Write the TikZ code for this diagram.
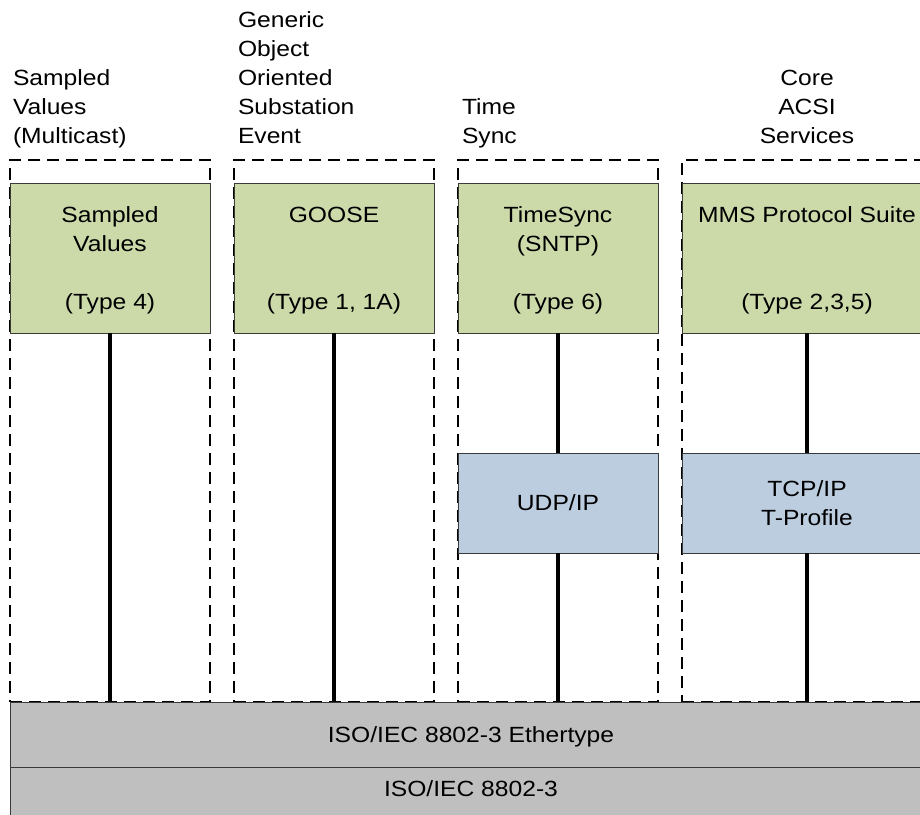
\documentclass[tikz,border=0pt]{standalone}
\usepackage{fontspec}
\setmainfont{Liberation Sans}[FakeStretch=1.12]
\definecolor{greenfill}{HTML}{CCDAAA}
\definecolor{bluefill}{HTML}{BCCDE0}
\definecolor{greyfill}{HTML}{BFBFBF}
\definecolor{edge}{HTML}{3A3A3A}
\begin{document}
\begin{tikzpicture}[x=1pt,y=-1pt,
  every node/.style={font=\fontsize{22}{29}\selectfont, inner sep=0pt, outer sep=0pt},
  groupbox/.style={draw=black, line width=1.3pt, dash pattern=on 12pt off 7pt, minimum width=200pt, minimum height=542pt, anchor=north west},
  greenbox/.style={draw=edge, line width=0.9pt, fill=greenfill, minimum height=150pt, anchor=north west},
  bluebox/.style={draw=edge, line width=0.9pt, fill=bluefill, minimum height=100pt, anchor=north west, align=center},
  greybox/.style={draw=edge, line width=0.9pt, fill=greyfill, minimum width=922pt, anchor=north west, text height=15.8pt},
  boxtext/.style={anchor=base, align=center},
  toplabel/.style={anchor=base west, align=left},
  stem/.style={line width=4pt, black}
]
\useasboundingbox (0,0) rectangle (920,814);
\clip (0,0) rectangle (920,814);

% dashed groups
\node[groupbox] (g1) at (10,160) {};
\node[groupbox] (g2) at (234,160) {};
\node[groupbox] (g3) at (458,160) {};
\node[groupbox, minimum width=250pt] (g4) at (682,160) {};

% top labels (base = last line)
\node[toplabel] (l1) at (13,143) {Sampled\\Values\\(Multicast)};
\node[toplabel] (l2) at (238,143) {Generic\\Object\\Oriented\\Substation\\Event};
\node[toplabel] (l3) at (462,143) {Time\\Sync};
\node[boxtext] (l4) at (807,143) {Core\\ACSI\\Services};

% green boxes
\node[greenbox, minimum width=200pt] (sv) at (10,183) {};
\node[greenbox, minimum width=200pt] (go) at (234,183) {};
\node[greenbox, minimum width=200pt] (ts) at (458,183) {};
\node[greenbox, minimum width=250pt] (mms) at (682,183) {};

\node[boxtext] (svt) at (110,309) {Sampled\\Values\\[29pt](Type 4)};
\node[boxtext] (got) at (334,309) {GOOSE\\[58pt](Type 1, 1A)};
\node[boxtext] (tst) at (558,309) {TimeSync\\(SNTP)\\[29pt](Type 6)};
\node[boxtext] (mmst) at (807,309) {MMS Protocol Suite\\[58pt](Type 2,3,5)};

% blue boxes
\node[bluebox, minimum width=200pt, text height=15.8pt, text depth=0pt] (udp) at (458,453) {UDP/IP};
\node[bluebox, minimum width=250pt] (tcp) at (682,453) {TCP/IP\\T-Profile};

% grey bars
\node[greybox, minimum height=65pt, text depth=0pt] (eth) at (10,702) {ISO/IEC 8802-3 Ethertype};
\node[greybox, minimum height=50pt, text depth=7.6pt] (phy) at (10,767) {ISO/IEC 8802-3};

% stems
\draw[stem] (sv.south) -- (sv.south |- eth.north);
\draw[stem] (go.south) -- (go.south |- eth.north);
\draw[stem] (ts.south) -- (udp.north);
\draw[stem] (udp.south) -- (udp.south |- eth.north);
\draw[stem] (mms.south) -- (tcp.north);
\draw[stem] (tcp.south) -- (tcp.south |- eth.north);
\end{tikzpicture}
\end{document}
